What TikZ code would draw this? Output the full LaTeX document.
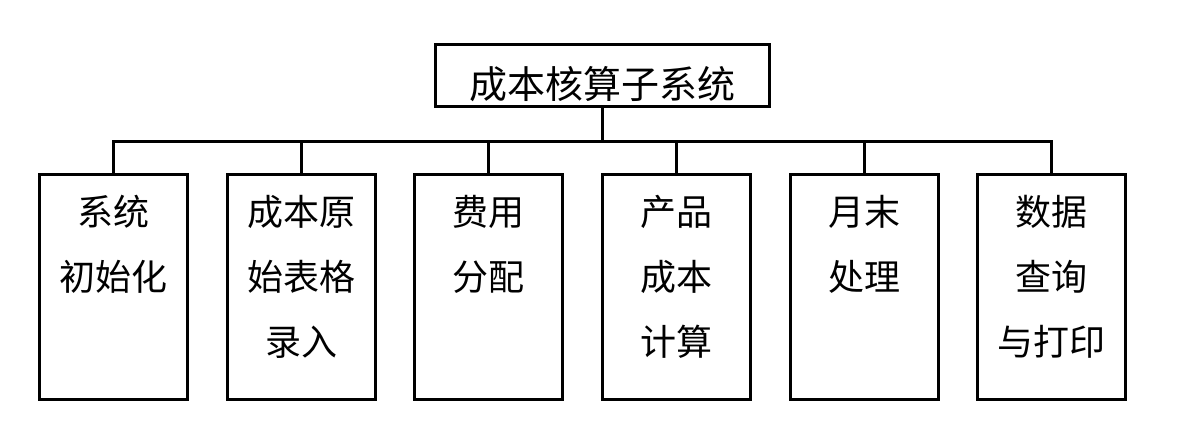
\documentclass[tikz,border=0pt]{standalone}
\usepackage{fontspec}
\newfontfamily\cjk{Noto Sans CJK SC}

\begin{document}
\begin{tikzpicture}[x=1pt, y=-1pt]

    % --------------------
    % Moldura
    % --------------------
    \useasboundingbox (0,0) rectangle (1187,434);

    % Estilos
    \tikzset{
        caixa/.style={draw, line width=3pt, inner sep=0pt},
        modulo/.style={caixa, minimum width=148pt, minimum height=225pt, anchor=north},
        texto/.style={font=\cjk\fontsize{36}{65}\selectfont, align=center, inner sep=0pt, anchor=north},
        ligacao/.style={line width=3pt}
    }

    % --------------------
    % Sistema principal
    % --------------------
    \node[caixa, minimum width=334pt, minimum height=62pt, text height=46pt, text depth=1pt,
          font=\cjk\fontsize{38}{38}\selectfont] (raiz) at (602,75.8) {成本核算子系统};

    \coordinate (barra) at (0,141.7);

    % --------------------
    % Modulos
    % --------------------
    \foreach \x/\n/\rotulo in {113.5/1/{系统\\初始化}, 301.2/2/{成本原\\始表格\\录入},
                               488.8/3/{费用\\分配}, 676.4/4/{产品\\成本\\计算},
                               864.0/5/{月末\\处理}, 1051.6/6/{数据\\查询\\与打印}}{
        \node[modulo] (c\n) at (\x,173.3) {};
        \node[texto] (t\n) at ([yshift=-22pt]c\n.north) {\rotulo};
    }

    % --------------------
    % Ligacoes
    % --------------------
    \draw[ligacao] (raiz.south) -- (raiz.south |- barra);
    \draw[ligacao] (c1.north) |- (c6.north |- barra) -- (c6.north);
    \foreach \n in {2,...,5}
        \draw[ligacao] (c\n.north) -- (c\n.north |- barra);

\end{tikzpicture}
\end{document}
